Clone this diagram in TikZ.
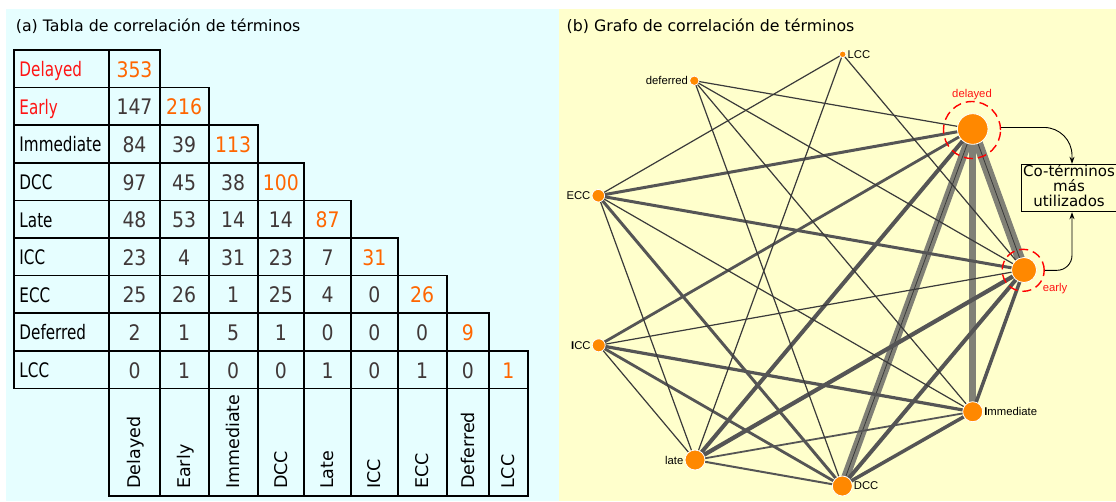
\documentclass[tikz,border=0pt]{standalone}
\usepackage{fontspec}
\setmainfont{DejaVu Sans}
\newfontfamily\filafont[FakeStretch=0.76]{DejaVu Sans}
\newfontfamily\numfont[FakeStretch=0.88]{DejaVu Sans}
\newfontfamily\grafofont{Liberation Sans}
\usetikzlibrary{arrows.meta,positioning}

\definecolor{fondoA}{RGB}{230,254,255}
\definecolor{fondoB}{RGB}{255,255,204}
\definecolor{naranja}{RGB}{255,102,0}
\definecolor{nodo}{RGB}{255,136,0}
\definecolor{rojo}{RGB}{255,20,20}
\definecolor{cifra}{RGB}{64,56,56}
\definecolor{gris}{RGB}{128,128,118}
\definecolor{oscuro}{RGB}{85,85,85}
\definecolor{linea}{RGB}{58,58,58}

\pgfdeclarelayer{fondo}
\pgfdeclarelayer{aristas}
\pgfsetlayers{fondo,aristas,main}

% borde derecho de la columna #1 (0 = columna de nombres)
\newcommand\bordecol[1]{\csname borde\number\numexpr#1\relax\endcsname}

\tikzset{
  titulo/.style={anchor=base west, inner sep=0pt, font=\fontsize{15.8}{19}\selectfont},
  tabla/.style={line width=1.7pt, line cap=rect},
  fila/.style={anchor=base west, inner sep=0pt, font=\filafont\fontsize{20}{24}\selectfont},
  celda/.style={anchor=base, inner sep=0pt, font=\numfont\fontsize{21.4}{25}\selectfont},
  columna/.style={anchor=base west, rotate=90, inner sep=0pt, font=\fontsize{17.5}{20}\selectfont},
  termino/.style={circle, fill=nodo, draw=white, line width=0.8pt, inner sep=0pt,
    minimum size=#1, label distance=1.5pt},
  etiq/.style={inner sep=1pt, font=\grafofont\fontsize{11.3}{13}\selectfont},
  anillo/.style={circle, draw=red, line width=1.4pt, dash pattern=on 9pt off 5pt,
    inner sep=0pt, minimum size=#1},
  banda/.style={draw=gris, postaction={draw=linea, line width=0.8pt}},
  bandaplena/.style={draw=gris},
  media/.style={draw=oscuro},
  fina/.style={draw=linea, line width=1.2pt},
  caja/.style={draw=black, line width=1pt, inner sep=0pt},
  flecha/.style={-{Stealth[length=7pt,width=5pt]}, line width=0.9pt, black}
}

\begin{document}
\begin{tikzpicture}[x=1pt,y=-1pt]
\useasboundingbox (0,0) rectangle (1116,501);

% Fondos de los dos paneles
\begin{pgfonlayer}{fondo}
  \fill[white] (0,0) rectangle (1116,501);
  \fill[fondoA] (6,9) rectangle (559,501);
  \fill[fondoB] (559,9) rectangle (1116,501);
\end{pgfonlayer}

% (a) Tabla de correlacion (izquierda)
\node[titulo] (tituloA) at (15.7,31.5) {(a) Tabla de correlación de términos};

\foreach \e [count=\i from 0] in {109.3,159.7,208.7,257.7,304,351,397.7,446.7,489,527.7}
  {\expandafter\xdef\csname borde\i\endcsname{\e}}

\draw[tabla] (14,50) -- (14,388.4);
\draw[tabla] (109.3,50) -- (109.3,496);
\draw[tabla] (14,388.4) -- (527.7,388.4);
\draw[tabla] (109.3,496) -- (527.7,496);

\foreach \r/\nombre/\tono/\vals in {1/Delayed/rojo/{353}, 2/Early/rojo/{147,216},
    3/Immediate/black/{84,39,113}, 4/DCC/black/{97,45,38,100},
    5/Late/black/{48,53,14,14,87}, 6/ICC/black/{23,4,31,23,7,31},
    7/ECC/black/{25,26,1,25,4,0,26}, 8/Deferred/black/{2,1,5,1,0,0,0,9},
    9/LCC/black/{0,1,0,0,1,0,1,0,1}} {
  \pgfmathsetmacro\yt{50+37.6*(\r-1)}
  \pgfmathsetmacro\ym{\yt+18.8}
  \edef\xd{\bordecol{\r}}
  \draw[tabla] (14,\yt) -- (\xd,\yt);
  \draw[tabla] (\xd,\yt) -- (\xd,496);
  \node[fila, text=\tono] (fila\r) at (19.3,\ym+7.8) {\nombre};
  \foreach \v [count=\c] in \vals {
    \pgfmathsetmacro\xc{(\bordecol{\c-1}+\bordecol{\c})/2}
    \ifnum\c=\r\def\tinta{naranja}\else\def\tinta{cifra}\fi
    \node[celda, text=\tinta] (n\r-\c) at (\xc,\ym+8.5) {\v};
  }
}

% Etiquetas verticales de las columnas
\foreach \nombre [count=\c] in {Delayed,Early,Immediate,DCC,Late,ICC,ECC,Deferred,LCC} {
  \pgfmathsetmacro\xc{(\bordecol{\c-1}+\bordecol{\c})/2}
  \node[columna] (col\c) at (\xc+6.3,489) {\nombre};
}

% (b) Grafo de correlacion (derecha)
\node[titulo] (tituloB) at (566.5,31.5) {(b) Grafo de correlación de términos};

\node[termino=6.6, label={[etiq]right:LCC}] (lcc) at (842.7,54.3) {};
\node[termino=9.4, label={[etiq]left:deferred}] (deferred) at (694.3,80.7) {};
\node[termino=30.6] (delayed) at (972.7,129) {};
\node[termino=12.6, label={[etiq]left:ECC}] (ecc) at (598.3,195.7) {};
\node[termino=25] (early) at (1024,270) {};
\node[termino=13, label={[etiq]left:{\bfseries I}CC}] (icc) at (598.7,345.3) {};
\node[termino=20, label={[etiq]right:{\bfseries I}mmediate}] (immediate) at (972.7,411.7) {};
\node[termino=20, label={[etiq]left:late}] (late) at (695,460) {};
\node[termino=20, label={[etiq]right:DCC}] (dcc) at (842.3,486) {};

% Aristas: grosor segun el numero de co-ocurrencias
\begin{pgfonlayer}{aristas}
  \foreach \a/\b/\w in {delayed/early/10, delayed/dcc/8.5}
    \draw[banda, line width=\w] (\a.center) -- (\b.center);
  \draw[bandaplena, line width=7] (delayed.center) -- (immediate.center);
  \foreach \a/\b/\w in {delayed/late/4, delayed/icc/2.8, delayed/ecc/3, early/immediate/3.5,
      early/dcc/4, early/late/4.2, early/ecc/3, immediate/dcc/3.5, immediate/icc/3.2,
      dcc/icc/2.8, dcc/ecc/3, immediate/late/1.8, dcc/late/2}
    \draw[media, line width=\w] (\a.center) -- (\b.center);
  \foreach \a/\b in {delayed/deferred, early/icc, early/deferred, early/lcc, immediate/ecc,
      immediate/deferred, dcc/deferred, late/icc, late/ecc, late/lcc, ecc/lcc}
    \draw[fina] (\a.center) -- (\b.center);
\end{pgfonlayer}

% Co-terminos mas utilizados
\node[anillo=57, label distance=4pt, label={[etiq, text=rojo]above:delayed}] (delayedring) at (972,130) {};
\node[anillo=42, label distance=4.5pt, label={[etiq, text=rojo]-32:early}] (earlyring) at (1023.2,270.3) {};

\node[caja, minimum width=96, minimum height=47.4] (cot) at (1069,188) {};
\node[anchor=north, align=center, inner sep=0pt, font=\fontsize{15}{14.7}\selectfont]
  (cottexto) at ([yshift=-0.7pt]cot.north) {Co-términos\\más\\utilizados};

\draw[flecha, rounded corners=28pt] (delayedring.5) -| ([xshift=3pt]cot.north);
\draw[flecha, rounded corners=15pt] (earlyring.east) -| ([xshift=3pt]cot.south);

\end{tikzpicture}
\end{document}
